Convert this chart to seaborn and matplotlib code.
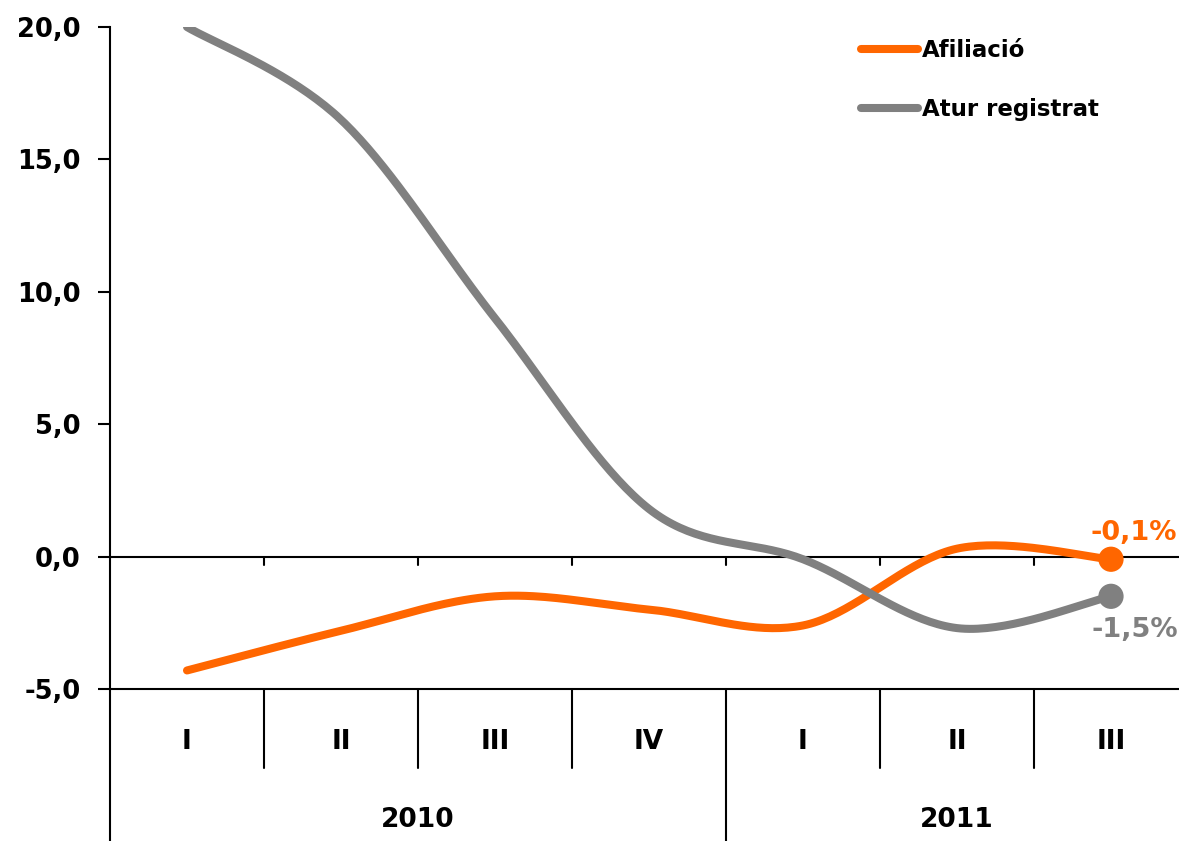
import numpy as np
import pandas as pd
import matplotlib
matplotlib.use("Agg")
import matplotlib.pyplot as plt
import matplotlib.transforms as mtransforms
from matplotlib.lines import Line2D
import seaborn as sns

# Quarterly year-on-year change (%)
quarters = ["I", "II", "III", "IV", "I", "II", "III"]
years = ["2010", "2011"]
quarters_per_year = [4, 3]
afiliacio = [-4.3, -2.8, -1.5, -2.0, -2.6, 0.3, -0.1]
atur = [20.0, 16.5, 9.0, 1.8, -0.1, -2.7, -1.5]
series_names = ["Afiliació", "Atur registrat"]
series_colors = ["#FF6600", "#808080"]
end_labels = ["-0,1%", "-1,5%"]
yticks = [-5, 0, 5, 10, 15, 20]

sns.set_theme(style="white")
plt.rcParams["font.family"] = ["DejaVu Sans"]
plt.rcParams["text.color"] = "black"
plt.rcParams["ytick.color"] = "black"
plt.rcParams["axes.labelcolor"] = "black"


def smooth(values, steps=40):
    """Bezier smoothing through every point (spreadsheet-style smoothed line)."""
    p = np.asarray(values, dtype=float)
    x = np.arange(len(p), dtype=float)
    xs, ys = [], []
    for i in range(len(p) - 1):
        p0 = p[i - 1] if i > 0 else p[i]
        p3 = p[i + 2] if i + 2 < len(p) else p[i + 1]
        x0 = x[i - 1] if i > 0 else x[i]
        x3 = x[i + 2] if i + 2 < len(p) else x[i + 1]
        c1y = p[i] + (p[i + 1] - p0) / 6
        c2y = p[i + 1] - (p3 - p[i]) / 6
        c1x = x[i] + (x[i + 1] - x0) / 6
        c2x = x[i + 1] - (x3 - x[i]) / 6
        t = np.linspace(0, 1, steps, endpoint=(i == len(p) - 2))
        b0, b1, b2, b3 = (1 - t) ** 3, 3 * (1 - t) ** 2 * t, 3 * (1 - t) * t ** 2, t ** 3
        xs.append(b0 * x[i] + b1 * c1x + b2 * c2x + b3 * x[i + 1])
        ys.append(b0 * p[i] + b1 * c1y + b2 * c2y + b3 * p[i + 1])
    return np.concatenate(xs), np.concatenate(ys)


W, H = 1179, 841
fig = plt.figure(figsize=(W / 100, H / 100), dpi=100)
ax_left, ax_right, ax_top, ax_bottom = 110, 1188, 27, 689
ax = fig.add_axes([ax_left / W, 1 - ax_bottom / H,
                   (ax_right - ax_left) / W, (ax_bottom - ax_top) / H])

n = len(quarters)
for vals, name, color in zip([afiliacio, atur], series_names, series_colors):
    sx, sy = smooth(vals)
    df = pd.DataFrame({"x": sx, "y": sy})
    sns.lineplot(data=df, x="x", y="y", sort=False, color=color, lw=5.8,
                 ax=ax, solid_capstyle="round", legend=False)
    sns.scatterplot(x=[n - 1], y=[vals[-1]], color=color, s=330,
                    edgecolor="none", ax=ax, zorder=5, legend=False)

ax.set_xlim(-0.5, n - 0.5)
ax.set_ylim(-5, 20)
ax.set_xlabel("")
ax.set_ylabel("")
ax.set_xticks([])
ax.set_yticks(yticks)
ax.set_yticklabels([f"{v:.1f}".replace(".", ",") for v in yticks],
                   fontsize=18.5, fontweight="bold", color="black")
ax.tick_params(axis="y", direction="out", length=9, width=1.5, pad=12,
               color="black", left=True)

for side in ["top", "right"]:
    ax.spines[side].set_visible(False)
for side in ["left", "bottom"]:
    ax.spines[side].set_color("black")
    ax.spines[side].set_linewidth(1.5)

# zero line with short ticks at quarter boundaries
ax.axhline(0, color="black", lw=1.5, zorder=1)
for b in np.arange(0.5, n - 0.5, 1.0):
    ax.plot([b, b], [0, -0.3], color="black", lw=1.5, zorder=1)

# category table under the axis
trans = mtransforms.blended_transform_factory(ax.transData, ax.transAxes)
ax_h = ax_bottom - ax_top
short_y = -(768 - ax_bottom) / ax_h
long_y = -(H - ax_bottom) / ax_h
q_y = -(742 - ax_bottom) / ax_h
y_y = -(820 - ax_bottom) / ax_h

for i, q in enumerate(quarters):
    ax.text(i, q_y, q, transform=trans, ha="center", va="center",
            fontsize=19, fontweight="bold", color="black", clip_on=False)

year_edges = np.cumsum([0] + quarters_per_year) - 0.5
for k, yr in enumerate(years):
    ax.text((year_edges[k] + year_edges[k + 1]) / 2, y_y, yr, transform=trans,
            ha="center", va="center", fontsize=19, fontweight="bold",
            color="black", clip_on=False)

for b in np.arange(0.5, n - 0.5, 1.0):
    bottom = long_y if np.any(np.isclose(b, year_edges)) else short_y
    ax.add_line(Line2D([b, b], [0, bottom], transform=trans, color="black",
                       lw=1.5, clip_on=False))
ax.add_line(Line2D([-0.5, -0.5], [0, long_y], transform=trans, color="black",
                   lw=1.5, clip_on=False))

# end-point value labels
ax.annotate(end_labels[0], (n - 1, afiliacio[-1]), xytext=(-15, 19),
            textcoords="offset points", color=series_colors[0], fontsize=19.5,
            fontweight="bold", ha="left", va="center", annotation_clip=False)
ax.annotate(end_labels[1], (n - 1, atur[-1]), xytext=(-14, -24),
            textcoords="offset points", color=series_colors[1], fontsize=19.5,
            fontweight="bold", ha="left", va="center", annotation_clip=False)

handles = [Line2D([0], [0], color=c, lw=5.8, solid_capstyle="round")
           for c in series_colors]
leg = fig.legend(handles, series_names, loc="upper left",
                 bbox_to_anchor=(852 / W, 1 - 30 / H), frameon=False,
                 prop={"size": 16.5, "weight": "bold"}, handlelength=2.5,
                 handletextpad=0.15, labelspacing=1.58, borderaxespad=0)
for t in leg.get_texts():
    t.set_color("black")

fig.savefig("out.png", dpi=100)
